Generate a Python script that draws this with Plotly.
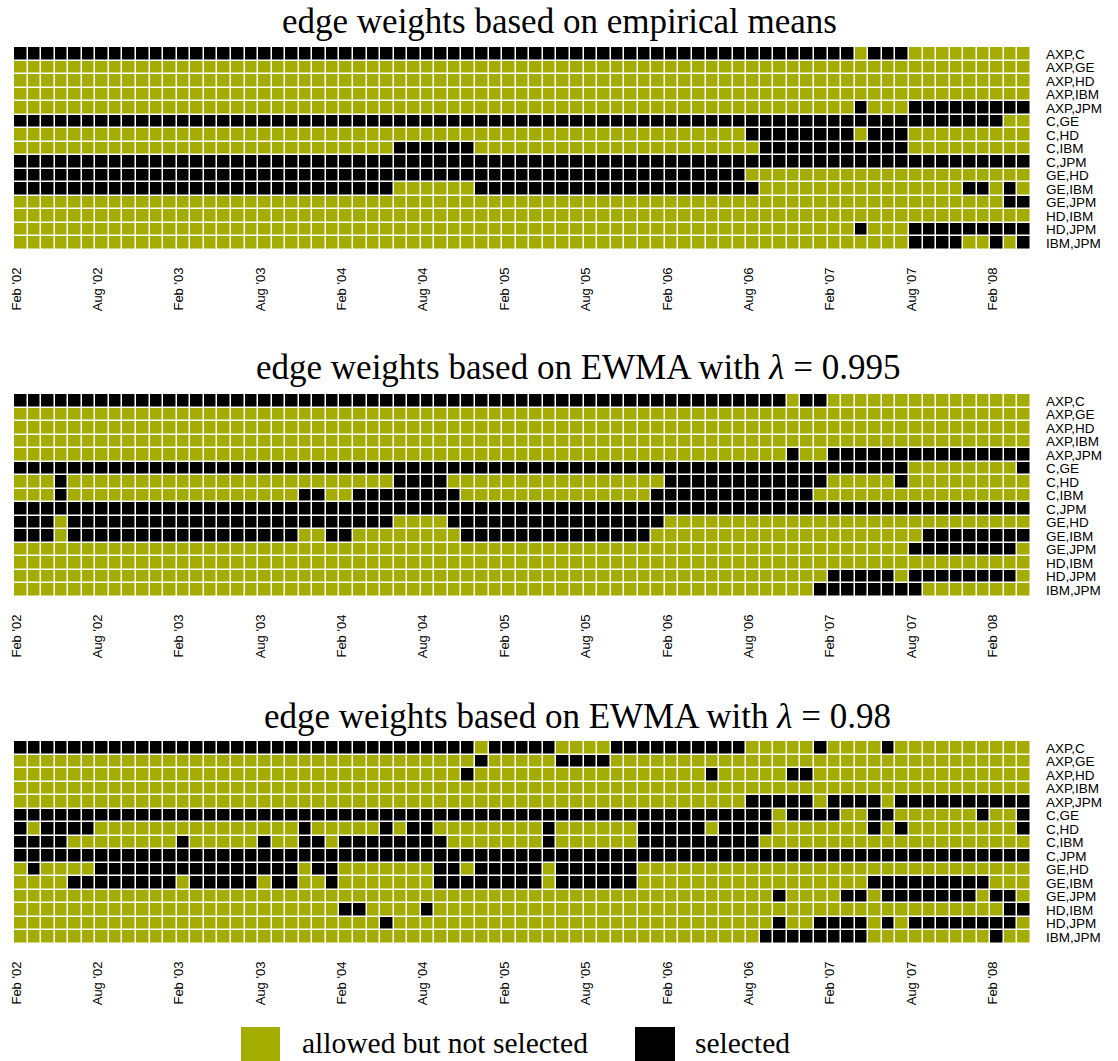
import plotly.graph_objects as go

# ---------------- data ----------------
pairs = ["AXP,C", "AXP,GE", "AXP,HD", "AXP,IBM", "AXP,JPM",
         "C,GE", "C,HD", "C,IBM", "C,JPM",
         "GE,HD", "GE,IBM", "GE,JPM",
         "HD,IBM", "HD,JPM", "IBM,JPM"]

n_months = 75  # Feb '02 .. Apr '08

tick_months = [0, 6, 12, 18, 24, 30, 36, 42, 48, 54, 60, 66, 72]
tick_labels = ["Feb '02", "Aug '02", "Feb '03", "Aug '03", "Feb '04", "Aug '04",
               "Feb '05", "Aug '05", "Feb '06", "Aug '06", "Feb '07", "Aug '07",
               "Feb '08"]

# selected months (inclusive index ranges) per pair, one list per panel
selected_means = [
    [(0, 61), (63, 65)],                      # AXP,C
    [],                                        # AXP,GE
    [],                                        # AXP,HD
    [],                                        # AXP,IBM
    [(62, 62), (66, 74)],                      # AXP,JPM
    [(0, 72)],                                 # C,GE
    [(54, 61), (63, 65)],                      # C,HD
    [(28, 33), (55, 65)],                      # C,IBM
    [(0, 74)],                                 # C,JPM
    [(0, 53)],                                 # GE,HD
    [(0, 27), (34, 54), (70, 71), (73, 73)],   # GE,IBM
    [(73, 74)],                                # GE,JPM
    [],                                        # HD,IBM
    [(62, 62), (66, 74)],                      # HD,JPM
    [(66, 69), (72, 72), (74, 74)],            # IBM,JPM
]

selected_ewma995 = [
    [(0, 56), (58, 59)],
    [],
    [],
    [],
    [(57, 57), (60, 74)],
    [(0, 65), (74, 74)],
    [(3, 3), (28, 31), (48, 59), (65, 65)],
    [(3, 3), (21, 22), (25, 32), (47, 58)],
    [(0, 74)],
    [(0, 2), (4, 27), (32, 47)],
    [(0, 2), (4, 20), (23, 24), (33, 46), (67, 74)],
    [(66, 73)],
    [],
    [(60, 64), (66, 73)],
    [(59, 66)],
]

selected_ewma98 = [
    [(0, 33), (35, 39), (44, 53), (59, 59), (64, 64)],
    [(34, 34), (40, 43)],
    [(33, 33), (51, 51), (57, 58)],
    [],
    [(54, 58), (60, 63), (65, 74)],
    [(0, 55), (57, 60), (63, 64), (71, 71), (74, 74)],
    [(0, 0), (2, 5), (21, 21), (27, 27), (29, 30), (39, 39), (46, 50),
     (52, 55), (63, 63), (65, 65), (74, 74)],
    [(0, 3), (12, 12), (18, 18), (21, 22), (24, 31), (39, 39), (46, 54)],
    [(0, 74)],
    [(1, 1), (6, 20), (22, 23), (31, 32), (34, 38), (40, 45)],
    [(4, 11), (13, 17), (19, 20), (23, 23), (31, 38), (40, 45), (63, 71)],
    [(56, 56), (61, 62), (64, 70), (72, 73)],
    [(24, 25), (30, 30), (73, 74)],
    [(27, 27), (56, 56), (59, 62), (64, 64), (66, 73)],
    [(55, 62), (72, 72)],
]

titles = ["edge weights based on empirical means",
          "edge weights based on EWMA with <i>λ</i> = 0.995",
          "edge weights based on EWMA with <i>λ</i> = 0.98"]

legend_labels = ["allowed but not selected", "selected"]

# ---------------- styling ----------------
GREEN = "#A4AC00"
BLACK = "#000000"
W, H = 1118, 1061


def px_x(p):  # page pixel -> paper x
    return p / W


def px_y(p):  # page pixel -> paper y
    return 1 - p / H


def to_matrix(segments):
    z = []
    for segs in segments:
        row = [0] * n_months
        for a, b in segs:
            for k in range(a, b + 1):
                row[k] = 1
        z.append(row)
    return z


panels = [selected_means, selected_ewma995, selected_ewma98]
# grid pixel extents (top, bottom) for each panel, page pixels
grid_px = [(47, 250), (394, 597), (741, 944)]
title_px = [(559, 21), (578, 368), (578, 716)]
x_px = (14, 1031)
SANS = "Liberation Sans, Arial, sans-serif"
SERIF = "Liberation Serif, Times New Roman, serif"

fig = go.Figure()
months = list(range(n_months))

for i, segs in enumerate(panels):
    ax = "" if i == 0 else str(i + 1)
    fig.add_trace(go.Heatmap(
        z=to_matrix(segs), x=months, y=pairs,
        zmin=0, zmax=1,
        colorscale=[[0, GREEN], [0.5, GREEN], [0.5, BLACK], [1, BLACK]],
        showscale=False, xgap=1.5, ygap=1.5,
        xaxis="x" + ax, yaxis="y" + ax, hoverinfo="skip",
    ))
    top, bot = grid_px[i]
    fig.layout["xaxis" + ax] = dict(
        domain=[px_x(x_px[0]), px_x(x_px[1])],
        anchor="y" + ax,
        range=[-0.5, n_months - 0.5],
        tickmode="array",
        tickvals=[m - 0.32 for m in tick_months],
        ticktext=tick_labels,
        tickangle=-90,
        ticks="",
        ticklabelstandoff=14,
        automargin=False,
        tickfont=dict(family=SANS, size=13, color="black"),
        showgrid=False, zeroline=False, showline=False,
    )
    fig.layout["yaxis" + ax] = dict(
        domain=[px_y(bot), px_y(top)],
        anchor="x" + ax,
        side="right",
        autorange="reversed",
        tickmode="array",
        tickvals=pairs,
        ticktext=pairs,
        ticks="",
        ticklabelstandoff=14,
        automargin=False,
        tickfont=dict(family=SANS, size=13.5, color="black"),
        showgrid=False, zeroline=False, showline=False,
    )
    tx, ty = title_px[i]
    fig.add_annotation(
        text=titles[i], xref="paper", yref="paper",
        x=px_x(tx), y=px_y(ty), xanchor="center", yanchor="middle",
        showarrow=False,
        font=dict(family=SERIF, size=35, color="black"),
    )

# legend drawn at bottom
legend_items = [(GREEN, 241, 280, 300), (BLACK, 635, 675, 693)]
for (col, x0, x1, tx), lab in zip(legend_items, legend_labels):
    fig.add_shape(type="rect", xref="paper", yref="paper",
                  x0=px_x(x0), x1=px_x(x1), y0=0, y1=px_y(1027),
                  fillcolor=col, line=dict(width=0))
    fig.add_annotation(text=lab, xref="paper", yref="paper",
                       x=px_x(tx), y=px_y(1043), xanchor="left", yanchor="middle",
                       showarrow=False,
                       font=dict(family=SERIF, size=29.5, color="black"))

fig.update_layout(
    width=W, height=H,
    margin=dict(l=0, r=0, t=0, b=0, autoexpand=False),
    paper_bgcolor="white", plot_bgcolor="white",
    showlegend=False,
)

# remove the browser's default 8px body margin so the figure fills the window
fig.write_html("out.html", config={"displayModeBar": False},
               post_script="document.body.style.margin='0px';")
